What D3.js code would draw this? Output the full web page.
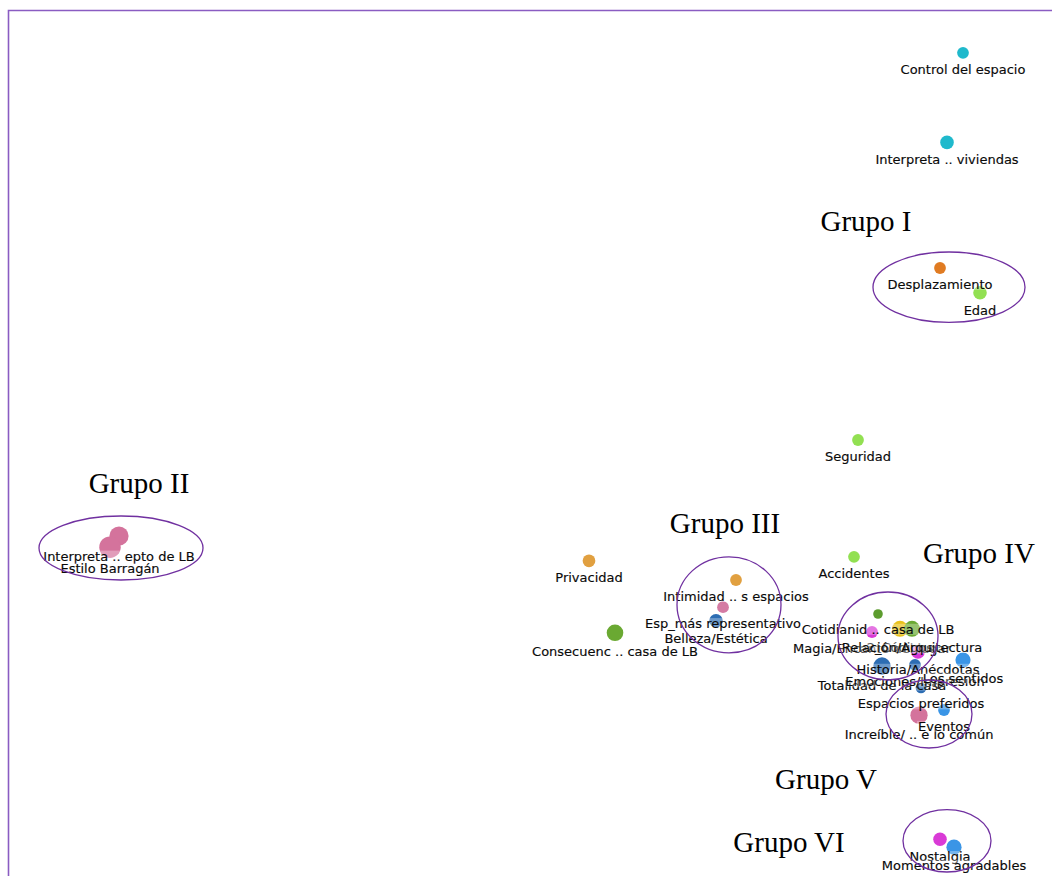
<!DOCTYPE html>
<html>
<head>
<meta charset="utf-8">
<script src="https://cdn.jsdelivr.net/npm/d3@7"></script>
<style>
  body { margin: 0; background: #fff; }
</style>
</head>
<body>
<div class="canvas"></div>
<script>
// codes (network layout coords, 0..100), weight = frequency
const labels = [
  'Control del espacio', 'Interpreta ..  viviendas', 'Desplazamiento', 'Edad',
  'Seguridad', 'Accidentes', 'Privacidad', 'Intimidad  .. s espacios',
  'Esp_más representativo', 'Belleza/Estética', 'Consecuenc .. casa de LB',
  'Interpreta .. epto de LB', 'Estilo Barragán',
  'Cotidianid .. casa de LB', 'Magia/Encanto del lugar', '2_Códigos', 'Relación/Arquitectura',
  'Historia/Anécdotas', 'Totalidad de la casa', 'Emociones/Impresión', 'Los sentidos',
  'Espacios preferidos', 'Increíble/ .. e lo común', 'Eventos',
  'Nostalgia', 'Momentos agradables'
]
const xs = [93.3, 91.7, 91.0, 95.0, 82.8, 82.4, 55.9, 70.6, 69.3, 68.6, 58.5, 8.9, 8.0,
  84.8, 84.2, 87.0, 88.2, 88.8, 85.2, 88.5, 93.3, 89.1, 88.9, 91.4, 91.0, 92.4]
const ys = [1.6, 12.8, 28.5, 31.6, 50.0, 64.6, 65.1, 67.5, 70.9, 72.6, 74.1, 62.0, 63.4,
  71.75, 74.0, 73.6, 73.6, 76.5, 78.25, 78.1, 77.5, 81.0, 84.4, 83.75, 99.9, 100.9]
const weights = [6, 8, 6, 8, 6, 6, 7, 6, 6, 8, 12, 16, 20,
  4, 6, 11, 11, 8, 13, 6, 10, 5, 13, 6, 8, 10]
const colors = ['#1fb9cc', '#1fb9cc', '#e07b22', '#92e052', '#92e052', '#92e052', '#e1a040', '#e1a040',
  '#d47ba3', '#2d6db3', '#6aa932', '#d4739c', '#d4739c',
  '#5c9c2e', '#d93ad6', '#e9c21c', '#6aa932', '#d93ad6', '#2d6db3', '#2d6db3', '#3a95e6',
  '#2d6db3', '#d4739c', '#3a95e6', '#d93ad6', '#3a95e6']

// group annotations
const groups = ['Grupo I', 'Grupo II', 'Grupo III', 'Grupo IV', 'Grupo V', 'Grupo VI']
const groupX = [91.9, 9.1, 69.9, 85.8, 89.9, 91.7]
const groupY = [30.9, 63.5, 70.6, 74.5, 84.25, 100.1]
const groupRx = [7.6, 8.2, 5.2, 5.0, 4.3, 4.4]
const groupRy = [4.4, 4.0, 6.0, 5.5, 4.25, 3.9]
const titleX = [83.6, 10.9, 69.5, 94.9, 79.6, 75.9]
const titleY = [23.9, 56.6, 61.6, 65.4, 93.6, 101.5]

const width = 1052
const height = 876

const svg = d3.select('.canvas').append('svg')
  .attr('width', width)
  .attr('height', height)
  .style('display', 'block')

const x = d3.scaleLinear().domain([0, 100]).range([30, 1030])
const y = d3.scaleLinear().domain([0, 100]).range([40, 840])
const r = d3.scaleSqrt().domain([0, 25]).range([0, 12])

// frame (top and left edges visible)
svg.append('path')
  .attr('d', `M8.5,${height} V10.5 H${width}`)
  .attr('fill', 'none')
  .attr('stroke', '#8a5cc2')
  .attr('stroke-width', 1.6)

const nodes = labels.map((d, i) => ({
  label: d, x: xs[i], y: ys[i], w: weights[i], color: colors[i]
}))

const dots = svg.append('g')
dots.selectAll('circle')
  .data(nodes)
  .enter().append('circle')
  .attr('cx', d => x(d.x))
  .attr('cy', d => y(d.y))
  .attr('r', d => r(d.w))
  .attr('fill', d => d.color)

// labels with a faint white box behind, drawn over the dots
const labelGroup = svg.append('g')
const lab = labelGroup.selectAll('g')
  .data(nodes)
  .enter().append('g')
  .attr('transform', d => `translate(${x(d.x)},${y(d.y) + r(d.w) + 15})`)

lab.append('rect')
lab.append('text')
  .attr('text-anchor', 'middle')
  .attr('font-family', 'DejaVu Sans, Verdana, sans-serif')
  .attr('font-size', 13)
  .attr('fill', '#0a0a0a')
  .attr('stroke', '#0a0a0a')
  .attr('stroke-width', 0.15)
  .text(d => d.label)

lab.each(function () {
  const g = d3.select(this)
  const bb = g.select('text').node().getBBox()
  g.select('rect')
    .attr('x', bb.x - 1)
    .attr('y', bb.y + 2)
    .attr('width', bb.width + 2)
    .attr('height', bb.height - 4)
    .attr('fill', '#fff')
    .attr('opacity', 0.3)
})

// group ellipses
const ann = groups.map((d, i) => ({
  name: d, cx: groupX[i], cy: groupY[i], rx: groupRx[i], ry: groupRy[i], tx: titleX[i], ty: titleY[i]
}))

svg.append('g').selectAll('ellipse')
  .data(ann)
  .enter().append('ellipse')
  .attr('cx', d => x(d.cx))
  .attr('cy', d => y(d.cy))
  .attr('rx', d => x(d.rx) - x(0))
  .attr('ry', d => y(d.ry) - y(0))
  .attr('fill', 'none')
  .attr('stroke', '#7030a0')
  .attr('stroke-width', 1.3)

svg.append('g').selectAll('text')
  .data(ann)
  .enter().append('text')
  .attr('x', d => x(d.tx))
  .attr('y', d => y(d.ty))
  .attr('text-anchor', 'middle')
  .attr('font-family', 'Liberation Serif, Times New Roman, serif')
  .attr('font-size', 29)
  .attr('fill', '#000')
  .text(d => d.name)
</script>
</body>
</html>
